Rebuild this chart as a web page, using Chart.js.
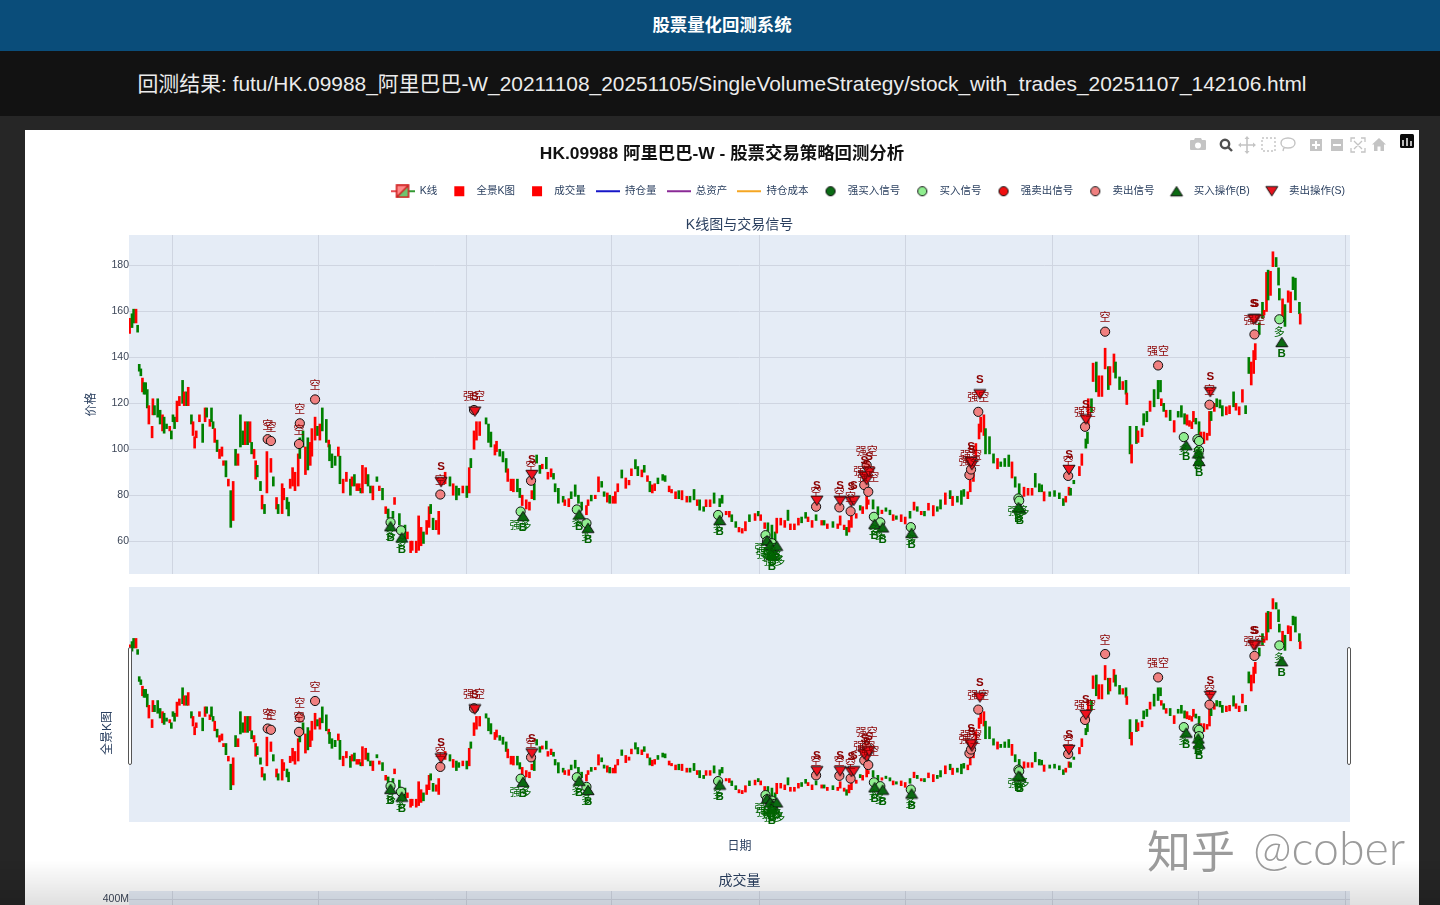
<!DOCTYPE html>
<html lang="zh"><head><meta charset="utf-8"><title>股票量化回测系统</title>
<script src="https://cdn.jsdelivr.net/npm/chart.js@4"></script>
<style>
html,body{margin:0;padding:0;width:1440px;height:905px;overflow:hidden;background:#262626;font-family:"Liberation Sans","Noto Sans CJK SC",sans-serif}
#top{position:absolute;left:0;top:0;width:1440px;height:51px;background:#0a4d7a;color:#fff;font-size:17.400px;font-weight:bold;text-align:center;line-height:50px;text-indent:4px}
#bar{position:absolute;left:0;top:51px;width:1440px;height:65px;background:#121212;color:#ececec;font-size:20.9px;text-align:center;line-height:66px;text-indent:4px;white-space:nowrap}
#panel{position:absolute;left:25px;top:130px;width:1394px;height:775px;background:#fff}
canvas{position:absolute;display:block}
#wm{position:absolute;left:0;top:0;width:1440px;height:905px;pointer-events:none}
#wm span{position:absolute;color:rgba(130,130,130,.8);text-shadow:1px 1px 0 rgba(255,255,255,.6);white-space:nowrap}
#shade{position:absolute;left:0;top:860px;width:1440px;height:45px;pointer-events:none;background:linear-gradient(rgba(0,0,0,0),rgba(0,0,0,.12))}
#mode{position:absolute;left:1180px;top:132px}
</style></head><body>
<div id="top">股票量化回测系统</div>
<div id="bar">回测结果: futu/HK.09988_阿里巴巴-W_20211108_20251105/SingleVolumeStrategy/stock_with_trades_20251107_142106.html</div>
<div id="panel">
<canvas id="main" width="1394" height="444" style="left:0;top:0"></canvas>
<canvas id="over" width="1394" height="285" style="left:0;top:445px"></canvas>
<canvas id="vol" width="1394" height="200" style="left:0;top:735px"></canvas>
</div>
<svg id="mode" width="240" height="26" viewBox="0 0 240 26" fill="#c4c4c4">
<path d="M11 8h3l1-2h6l1 2h3a1 1 0 0 1 1 1v8a1 1 0 0 1-1 1H11a1 1 0 0 1-1-1V9a1 1 0 0 1 1-1zm7 2.5a3 3 0 1 0 0 6 3 3 0 0 0 0-6z"/>
<circle cx="45" cy="12" r="4.2" fill="none" stroke="#505050" stroke-width="2.4"/><path d="M48 15l4 4" stroke="#505050" stroke-width="2.4"/>
<path d="M67 6v14M60 13h14" stroke="#c4c4c4" stroke-width="1.6"/><path d="M67 4l2.5 3h-5zM67 22l2.5-3h-5zM58 13l3-2.500v5zM76 13l-3-2.500v5z"/>
<rect x="82" y="6" width="13" height="13" fill="none" stroke="#c4c4c4" stroke-width="1.4" stroke-dasharray="2 2"/>
<path d="M108 6c4 0 7 2 7 5s-3 5-7 5c-4 0-7-2-7-5s3-5 7-5zM104 15l-1 4" fill="none" stroke="#c4c4c4" stroke-width="1.4"/>
<path fill-rule="evenodd" d="M130 7h12v12h-12zM135 12h-3v2h3v3h2v-3h3v-2h-3V9h-2z"/>
<path fill-rule="evenodd" d="M151 7h12v12h-12zM153 12v2h8v-2z"/>
<path d="M171 10V6h4M181 6h4v4M185 16v4h-4M175 20h-4v-4M174 9l8 8M182 9l-8 8" fill="none" stroke="#c4c4c4" stroke-width="1.3"/>
<path d="M199 6l7 6.500h-2V19h-3.500v-4.500h-3V19H194v-6.500h-2z"/>
<rect x="220" y="2" width="14" height="14" rx="1.500" fill="#0a0a0a"/><path d="M223 8v6M227 6v8M231 9v5" stroke="#e8e8e8" stroke-width="1.6"/>
</svg>
<div id="shade"></div>
<div id="wm"><span style="left:1147px;top:817px;font-size:44px;font-family:'Noto Sans CJK SC'">知乎</span><span style="left:1253px;top:819px;font-size:46.5px;font-weight:300;font-family:Lato">@cober</span></div>
<script>
// Candles: calendar day counted from 2021-11-08, open and close of each drawn candle.
// At this size wick and body cannot be told apart, so each candle carries its visible extent.
const days=[0,3,5,8,10,12,14,16,18,20,22,24,28,29,31,35,38,41,43,46,50,52,54,56,59,62,66,68,71,73,77,79,81,83,87,91,94,96,100,102,104,106,109,112,115,117,120,123,126,129,132,135,138,141,144,147,150,152,155,157,159,163,165,168,171,176,179,183,185,190,192,196,198,200,203,206,210,212,216,219,222,225,227,231,234,237,240,245,248,249,252,256,260,262,266,270,275,277,280,283,286,288,290,294,297,300,303,308,311,315,319,322,325,328,330,336,338,343,346,350,352,357,360,363,366,370,373,375,378,382,385,393,399,403,407,410,415,420,423,425,429,
432,436,444,447,450,455,457,461,465,469,471,475,478,483,486,489,494,498,501,504,507,511,514,519,521,525,528,530,534,540,542,547,550,555,559,563,569,571,575,580,584,588,591,595,598,602,605,608,613,618,622,625,630,633,638,641,645,648,651,654,658,664,667,672,675,680,684,688,694,698,703,707,710,715,718,723,728,735,738,743,747,750,755,759,763,767,772,779,783,786,791,795,800,804,806,811,816,820,823,828,833,837,842,845,850,855,862,865,
869,876,882,885,890,893,896,899,905,910,913,918,920,926,932,937,942,947,951,955,961,966,972,977,981,986,990,995,1001,1006,1010,1016,1022,1025,1031,1036,1039,1044,1047,1051,1054,1058,1060,1064,1066,1071,1076,1081,1085,1090,1095,1099,1103,1108,1114,1119,1124,1128,1133,1136,1139,1146,1152,1158,1163,1166,1170,1172,1176,1183,1186,1191,1193,1194,1198,1200,1204,1207,1211,1215,1219,1221,1226,1228,1233,1237,1241,1242,1246,1248,1254,1256,1261,1263,1267,1271,1276,1281,1284,1285,1288,1291,1296,1301,
1306,1310,1314,1317,1320,1323,1325,1328,1332,1334,1338,1342,1345,1347,1351,1354,1358,1361,1366,1370,1375,1378,1382,1386,1390,1394,1397,1400,1402,1407,1411,1413,1416,1418,1421,1424,1428,1431,1432,1436,1439,1443,1446,1449,1452,1457,1458];
const opens=[150.5,159,161,155,154,137,135,125,129,129,126,111,105,115,119,122,117,108,114,111,108,108,115,114,112,119,130,119,125,119,115,106,100.5,105,112,111,112,118,110,118,112,103,104,96,97,93,95,84,82,69,100,93,115,108,102,112,103,103,96,87,93,86,74,76,81,90,88,74,76,72,78,79,77,83,84,82,84,105,108,89,105,93,97,104,110,104,118,113,101,102,98,97,97,97,81,86,87,84,89,82,82,83,81,85,89,84,78,88,82,83,72,74,70,73,76,72,66,67,61,55,56,55,56,58,64,63,66,76,70,65,63,85,88,80,84,83,81,84,81,96,100,
104,106,113.7,111,107.5,97.5,99,100,99,96,86,82,81.5,87,83,75.5,74,73.5,78.5,85,97.5,93,91.5,96.5,87,88,89.5,85,83,79.5,75.5,75,81.5,84.5,80,77,71.5,75.5,80,78.5,81.5,86,81.5,77,80,76.5,76.5,81.5,91,83,84.5,88.5,95.5,92.5,88,93,86,86,81,82,87.5,89,88.5,81.5,81,78.5,82,78,77,79.5,82.5,75.5,78,75,75,75,81,78.5,80,71.5,70.5,71.5,68.5,64,63.5,64.5,71.5,69,73,69,65.5,68,67,64,63.5,67,66,73.5,65,65,67,70.5,72.5,68.5,66,71.500,67,69,
65.5,68.5,65.5,67,65,66,64,66,70,75.5,72,74,76,78,75,72,74.5,73.5,69,71,68.5,67.5,73,73.5,75,71.5,73,73.5,71,75,78,76,82,75.5,79.5,82,82.5,78.5,81.5,86,97.5,104.5,107.5,106,109,105.5,98,91.5,94.5,96,97.5,87.5,88,85,79.5,80,80,89.5,85,84.5,77.5,81.5,82,81,78.5,77,80,83,86.5,88.5,93,104.5,107.5,109,122,129.5,138,123,123,135,136,128,133.5,138,131.5,126,130,119.5,110,94,110,103,105.5,115.5,116.5,116.5,126,130,130,119,120,114,117,107.5,
116.5,119,115.5,110.5,110,109,112,113.5,112,102,102.5,104,106,116.5,116.5,122,121.5,119,115,115.5,125,117,115,120.5,119,140,128,133,139,155,164,158.5,160,178,167,179.5,183.5,179,170,157,163,164,159.5,175,174.5,164,154.5];
const closes=[157,153,155,161,151,134,132,131,124,124,118,119,110,122,115,114,111,115,107,109,110,104.5,112,109,121,123,120,125,119,127,111,112,105.5,108,115,103,118,114,113,112,109,109,99,100,101,95,88,87,66,86,93,98,101,102,112,102,112,98,100,95,88,82,80,72,99,96,84,79,72,85,83,74,71,87,92,90,98,96,101,101,91,103,109,114,106,111,108,103,104,95,92,93,101,85,87,90,80,88,84,85,85,81,93,92,84,81,84,86,84,78,75,70,67,70,79,67,64,60,64,60,60,60,71,66,59,69,75,72,65,69,73,90,84,85,78,80,84,79,92,92,108,
112,112,111,103,101,102,103.5,97,94.5,90,91.5,87,87,81.5,79,80,78,77,82,78,94,89.5,93.5,91.5,90,91.5,87,81.5,76.5,77,78,78.5,78.5,79.5,76.5,73.5,75.5,78,77.5,80,88,83.5,79.5,81,76.5,79.5,81.5,85,87.5,87.5,86.5,91.5,91.5,88.5,91,90,88.5,81.5,84.5,85,85,86.5,86,84,82.5,81.5,78.5,82,79.5,77,78,78,73.5,73,78,78,76.5,75,76.5,73,73,68.5,66,66,65.500,68.5,68.5,72,71,71.5,68,63.5,61,55,70,70,69,69,67.5,67.5,70,68,70,70.5,69,69,69,67,
67.5,66,67.5,71,67,62.5,69,71,72,73.5,75,79.5,78,74,71.5,73.5,73,71.5,71.5,69.5,71.5,70.5,70,77,73,73,71,76.5,75.5,73,74,81,78.5,79.5,77,76,79.5,81.5,86.5,91.5,102.5,111,114,115,98,98,94,96,92.5,92.5,92.5,94.5,83.5,80,83.5,83,83,83.5,81.5,81.5,81.5,79.5,79.5,78.5,75.5,79.5,83.5,80,85,92.5,98,100.5,102.5,122,116,137.5,125,132,132,144,126,136,141.5,131,126,129.5,124,124.5,98,102,102.5,108,109,110.500,112,121,118.5,122,125,122,116.5,117,112.5,112.5,
114,114,111,115,112.5,112,116.5,111,106,107.5,107.5,107,116.5,112.5,120,118.5,118,114.5,118.5,119,118.5,120,118.5,126,115.5,133,138,143,146,150,157,160.5,177,165,177.5,186,179.5,171.5,165,165.5,153.5,169,168.5,169.5,165,159,159];
const gridDays=[54,235,419,600,784,966,1150,1331,1515];
const priceTicks=[60,80,100,120,140,160,180];
// Signals: day, price and the text printed beside the marker.
const sellDays=[172,176,212,211,231,387,429,500,855,884,898,918,915,920,1046,1048,1057,1169,1190,1215,1281,1345,1401];
const sellPrices=[104.4,103.6,111.3,102.3,121.7,80.3,117.1,86.3,75,74.7,73,93.1,84.4,81.5,88.8,91.2,116.3,88.4,109.8,151.2,136.5,119.4,150];
const sellMarks=['空','空','空','空','空','空','强空','空','空','空','空','强空','强空','强空','强空','强空','强空','空','强空','空','强空','空','强空'];
const buyDays=[325,338,487,557,569,733,792,794,800,803,927,935,973,1107,1108,1313,1330,1332,1332,1432];
const buyPrices=[68.2,64.7,72.9,73.8,67.8,71.4,62.6,60,59.1,57,70.6,68.2,66.1,78.6,77.6,105.3,104.4,103.6,99.6,156.6];
const buyMarks=['多','多','强多','多','多','多','强多','强多','强多','强多','多','多','多','强多','多','多','多','多','多','多'];
const sellOpDays=[388,430,501,856,885,899,902,918,915,921,1049,1048,1059,1170,1191,1346,1402,1400];
const sellOpPrices=[85.7,116.4,88.8,77.6,77.6,77.1,77.6,86.6,88.3,90,93.1,94.5,123.9,91,113,124.9,156.6,156.6];
const buyOpDays=[325,339,490,560,571,735,794,798,801,806,800,928,938,974,1109,1107,1316,1331,1332,1435];
const buyOpPrices=[66.5,61.6,70.9,71.6,65.8,69.2,60.4,58.3,56.1,58,54,67.5,66,63.6,74.2,74.8,101.8,98.2,94.9,146.7];
// Volume panel: only its very top is inside the window, so these bars stay below the fold.
const volDays=[100,300,500,700,900,1100,1300];
const volumes=[60e6,40e6,70e6,30e6,50e6,90e6,110e6];
const volTicks=[0,100e6,200e6,300e6,400e6];

const FONT='"Liberation Sans","Noto Sans CJK SC",sans-serif', INK='#2a3f5f', GRID='#cfd5e1', PLOT='#e5ecf6';
const UP='#ff0000', DOWN='#008000';
Chart.defaults.font.family=FONT; Chart.defaults.animation=false;
const XMIN=-0.75, XMAX=1520, YMIN=45.7, YMAX=193.3;

function icon(draw,w,h){const c=document.createElement('canvas');c.width=w||24;c.height=h||14;draw(c.getContext('2d'));return c}
const squareIcon=col=>icon(g=>{g.fillStyle=col;g.fillRect(7,2,10,10)});
const lineIcon=col=>icon(g=>{g.strokeStyle=col;g.lineWidth=2;g.beginPath();g.moveTo(0,7);g.lineTo(24,7);g.stroke()});
const circleIcon=col=>icon(g=>{g.fillStyle=col;g.strokeStyle='#111';g.lineWidth=1;g.beginPath();g.arc(12,7,4.6,0,7);g.fill();g.stroke()});
const triShape=(col,up)=>g=>{const w=g.canvas.width,h=g.canvas.height,hw=6,hh=4.7,cx=w/2,cy=h/2;g.fillStyle=col;g.strokeStyle='#111';g.lineWidth=1;g.beginPath();
  if(up){g.moveTo(cx,cy-hh);g.lineTo(cx+hw,cy+hh);g.lineTo(cx-hw,cy+hh)}else{g.moveTo(cx-hw,cy-hh);g.lineTo(cx+hw,cy-hh);g.lineTo(cx,cy+hh)}g.closePath();g.fill();g.stroke()};
const triIcon=(col,up)=>icon(triShape(col,up));
const triMark=(col,up)=>icon(triShape(col,up),14,12);
const candleIcon=icon(g=>{g.lineWidth=1.6;g.strokeStyle='#e0202a';g.beginPath();g.moveTo(0,7);g.lineTo(6,7);g.stroke();
  g.strokeStyle=DOWN;g.beginPath();g.moveTo(18,7);g.lineTo(24,7);g.stroke();
  g.fillStyle='#ff8a8a';g.beginPath();g.moveTo(6,1);g.lineTo(18,1);g.lineTo(6,13);g.fill();
  g.fillStyle='#6fc46f';g.beginPath();g.moveTo(18,1);g.lineTo(18,13);g.lineTo(6,13);g.fill();
  g.strokeStyle='#d02020';g.strokeRect(6,1,12,12);g.beginPath();g.moveTo(6,13);g.lineTo(18,1);g.stroke()});

const candles=days.map((d,i)=>({x:d,y:[opens[i],closes[i]]}));
const candleCols=days.map((d,i)=>closes[i]>=opens[i]?UP:DOWN);
const xy=(xs,ys)=>xs.map((x,i)=>({x,y:ys[i]}));
function candleSet(label,ic){return {type:'bar',label,data:candles,backgroundColor:candleCols,barThickness:2,grouped:false,order:20,icon:ic}}
function marks(label,xs,ys,col,style,ic,extra){return Object.assign({type:'scatter',label,data:xy(xs,ys),backgroundColor:col,borderColor:'#111',pointBackgroundColor:col,pointBorderColor:'#111',pointBorderWidth:1,pointStyle:style,icon:ic},extra)}
function signalSets(){
  return [
    marks('强买入信号',[],[],'#006400','circle',circleIcon('#0a6b14'),{order:9}),
    marks('买入信号',buyDays,buyPrices,'#90ee90','circle',circleIcon('#90ee90'),{order:6,pointRadius:4.6,labels:buyMarks,labelDy:14,labelCol:'#006400'}),
    marks('强卖出信号',[],[],'#ff0000','circle',circleIcon('#f01010'),{order:8}),
    marks('卖出信号',sellDays,sellPrices,'#f08080','circle',circleIcon('#f08080'),{order:5,pointRadius:4.6,labels:sellMarks,labelDy:-13.500,labelCol:'#8b0000'}),
    marks('买入操作(B)',buyOpDays,buyOpPrices,'#006400',triMark('#0b6a12',true),triIcon('#0b6a12',true),{order:2,labels:buyOpDays.map(()=>'B'),labelDy:12,labelCol:'#006400',labelBold:true}),
    marks('卖出操作(S)',sellOpDays,sellOpPrices,'#ff0000',triMark('#f0101c',false),triIcon('#e8121c',false),{order:1,labels:sellOpDays.map(()=>'S'),labelDy:-15,labelCol:'#8b0000',labelBold:true})
  ];
}
const plotBg={id:'plotBg',beforeDraw(ch){const a=ch.chartArea,g=ch.ctx;g.save();g.fillStyle=PLOT;g.fillRect(a.left,a.top,a.right-a.left,a.bottom-a.top);g.restore()}};
const markText={id:'markText',afterDatasetsDraw(ch){const g=ch.ctx;g.save();g.textAlign='center';g.textBaseline='middle';
  ch.data.datasets.forEach((ds,i)=>{if(!ds.labels)return;const m=ch.getDatasetMeta(i);
    g.fillStyle=ds.labelCol;g.font=(ds.labelBold?'bold 11.5px ':'11px ')+FONT;
    m.data.forEach((p,k)=>g.fillText(ds.labels[k],p.x,p.y+ds.labelDy))});g.restore()}};
const handles={id:'handles',afterDraw(ch){const a=ch.chartArea,g=ch.ctx;g.save();g.fillStyle='#fff';g.strokeStyle='#555';g.lineWidth=1;
  [a.left-0.5,a.right-2.5].forEach(x=>{g.beginPath();g.roundRect(x,72.5,3,117,1.5);g.fill();g.stroke()});
  g.fillStyle=INK;g.font='12px '+FONT;g.textAlign='center';g.textBaseline='middle';g.translate(82.5,158);g.rotate(-Math.PI/2);g.fillText('全景K图',0,0);g.restore()}};
const legendShift={id:'legendShift',afterLayout(ch){if(ch.legend){ch.legend.left+=5;ch.legend.right+=5;ch.legend.adjustHitBoxes()}}};

const xScale=(grid,extra)=>Object.assign({type:'linear',min:XMIN,max:XMAX,offset:false,
  afterBuildTicks(s){s.ticks=gridDays.map(v=>({value:v}))},afterFit(s){s.height=0},
  ticks:{display:false},border:{display:false},grid:grid?{color:GRID,drawTicks:false,lineWidth:1,offset:false}:{display:false,offset:false}},extra);
const spacer={display:true,position:'right',min:0,max:1,ticks:{display:false},grid:{display:false},border:{display:false},afterFit(s){s.width=69}};
const leftFit=s=>{s.width=104;s.paddingTop=0;s.paddingBottom=0};

new Chart(document.getElementById('main'),{type:'bar',
  data:{datasets:[
    candleSet('K线',candleIcon),
    {type:'bar',label:'全景K图',data:[],icon:squareIcon('#ff0000')},
    {type:'bar',label:'成交量',data:[],icon:squareIcon('#ff0000')},
    {type:'line',label:'持仓量',data:[],borderColor:'#0000cd',icon:lineIcon('#1616c8')},
    {type:'line',label:'总资产',data:[],borderColor:'#800080',icon:lineIcon('#8a2a96')},
    {type:'line',label:'持仓成本',data:[],borderColor:'#ffa500',icon:lineIcon('#f5a623')},
    ...signalSets()]},
  options:{responsive:false,maintainAspectRatio:false,layout:{padding:0,autoPadding:false},
    plugins:{
      title:{display:true,text:'HK.09988 阿里巴巴-W - 股票交易策略回测分析',color:'#111',weight:2000,font:{size:17.4,weight:'bold',lineHeight:21.6/17.4},padding:{top:13.4,bottom:10.95}},
      subtitle:{display:true,text:'K线图与交易信号',color:INK,weight:500,fullSize:false,font:{size:14,lineHeight:1.2},padding:{top:10.35,bottom:1.4}},
      legend:{display:true,position:'top',align:'end',fullSize:false,weight:1000,
        labels:{usePointStyle:true,pointStyleWidth:24,boxWidth:24,padding:10,color:INK,font:{size:10.5},
          generateLabels(ch){return ch.data.datasets.map((d,i)=>({text:d.label,pointStyle:d.icon,datasetIndex:i,fontColor:INK,fillStyle:'transparent',strokeStyle:'transparent',lineWidth:0}))}}},
      tooltip:{enabled:false}},
    scales:{
      x:xScale(true),
      y:{min:YMIN,max:YMAX,position:'left',afterBuildTicks(s){s.ticks=priceTicks.map(v=>({value:v}))},afterFit:leftFit,
        ticks:{color:'#3c4658',font:{size:10.5},padding:0},border:{display:false},grid:{color:GRID,drawTicks:false},
        title:{display:true,text:'价格',color:INK,font:{size:12},padding:{top:59.8,bottom:0}}},
      yR:spacer}},
  plugins:[plotBg,markText,legendShift]});

new Chart(document.getElementById('over'),{type:'bar',
  data:{datasets:[candleSet('全景K图',null),...signalSets()]},
  options:{responsive:false,maintainAspectRatio:false,layout:{padding:{top:12},autoPadding:false},
    plugins:{legend:{display:false},tooltip:{enabled:false}},
    scales:{
      x:xScale(false,{afterFit(s){s.height=38},title:{display:true,text:'日期',color:INK,font:{size:12},padding:{top:0,bottom:6.5}}}),
      y:{min:YMIN,max:YMAX,position:'left',afterFit:leftFit,ticks:{display:false},border:{display:false},grid:{display:false}},
      yR:spacer}},
  plugins:[plotBg,markText,handles]});

new Chart(document.getElementById('vol'),{type:'bar',
  data:{datasets:[{type:'bar',label:'成交量',data:xy(volDays,volumes),backgroundColor:'#ff0000',barThickness:2}]},
  options:{responsive:false,maintainAspectRatio:false,layout:{padding:0,autoPadding:false},
    plugins:{legend:{display:false},tooltip:{enabled:false},
      title:{display:true,text:'成交量',color:INK,fullSize:false,font:{size:14,weight:'normal',lineHeight:1.2},padding:{top:7.6,bottom:1.6}}},
    scales:{
      x:xScale(true),
      y:{min:0,max:419.3e6,position:'left',afterBuildTicks(s){s.ticks=volTicks.map(v=>({value:v}))},afterFit:leftFit,
        ticks:{color:'#3c4658',font:{size:10.5},padding:0,callback:v=>(v/1e6)+'M'},border:{display:false},grid:{color:GRID,drawTicks:false}},
      yR:spacer}},
  plugins:[plotBg]});
</script>
</body></html>
